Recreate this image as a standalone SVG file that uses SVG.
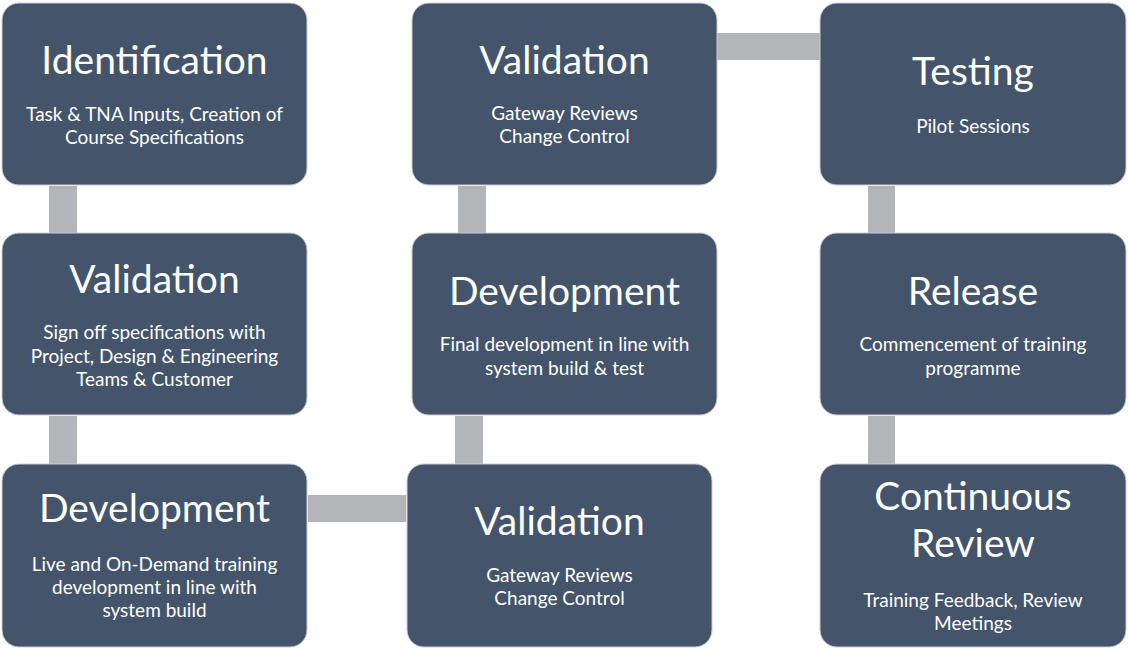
<svg xmlns="http://www.w3.org/2000/svg" width="1128" height="649" viewBox="0 0 1128 649">
<style>
.box{fill:#44546a;stroke:#c9ced6;stroke-width:1}
.bar{fill:#b3b5b8}
.t{font-family:Lato,"Open Sans",sans-serif;font-size:39px;fill:#fff;text-anchor:middle}
.s{font-family:Lato,"Open Sans",sans-serif;font-size:19px;fill:#fff;text-anchor:middle}
</style>
<rect width="1128" height="649" fill="#fff"/>
<g id="connectors">
<rect class="bar" x="49" y="186" width="28" height="47"/>
<rect class="bar" x="49" y="416" width="28" height="48"/>
<rect class="bar" x="308" y="495" width="98" height="27"/>
<rect class="bar" x="455" y="416" width="28" height="48"/>
<rect class="bar" x="458" y="186" width="28" height="47"/>
<rect class="bar" x="716" y="33" width="104" height="27"/>
<rect class="bar" x="868" y="186" width="27" height="47"/>
<rect class="bar" x="868" y="416" width="27" height="48"/>
</g>
<g id="identification">
<rect class="box" x="2" y="3" width="305" height="182" rx="17"/>
<text class="t" x="154.5" y="74">Identification</text>
<text class="s" x="154.5" y="121">Task &amp; TNA Inputs, Creation of</text>
<text class="s" x="154.5" y="144">Course Specifications</text>
</g>
<g id="validation1">
<rect class="box" x="2" y="233" width="305" height="182" rx="17"/>
<text class="t" x="154.5" y="293">Validation</text>
<text class="s" x="154.5" y="339">Sign off specifications with</text>
<text class="s" x="154.5" y="363">Project, Design &amp; Engineering</text>
<text class="s" x="154.5" y="386">Teams &amp; Customer</text>
</g>
<g id="development1">
<rect class="box" x="2" y="464" width="305" height="183" rx="17"/>
<text class="t" x="154.5" y="522">Development</text>
<text class="s" x="154.5" y="571">Live and On-Demand training</text>
<text class="s" x="154.5" y="594">development in line with</text>
<text class="s" x="154.5" y="617">system build</text>
</g>
<g id="validation2">
<rect class="box" x="407" y="464" width="305" height="183" rx="17"/>
<text class="t" x="559.5" y="535">Validation</text>
<text class="s" x="559.5" y="582">Gateway Reviews</text>
<text class="s" x="559.5" y="605">Change Control</text>
</g>
<g id="development2">
<rect class="box" x="412" y="233" width="305" height="182" rx="17"/>
<text class="t" x="564.5" y="305">Development</text>
<text class="s" x="564.5" y="351">Final development in line with</text>
<text class="s" x="564.5" y="375">system build &amp; test</text>
</g>
<g id="validation3">
<rect class="box" x="412" y="3" width="305" height="182" rx="17"/>
<text class="t" x="564.5" y="74">Validation</text>
<text class="s" x="564.5" y="120">Gateway Reviews</text>
<text class="s" x="564.5" y="143">Change Control</text>
</g>
<g id="testing">
<rect class="box" x="820" y="3" width="306" height="182" rx="17"/>
<text class="t" x="973" y="85">Testing</text>
<text class="s" x="973" y="133">Pilot Sessions</text>
</g>
<g id="release">
<rect class="box" x="820" y="233" width="306" height="182" rx="17"/>
<text class="t" x="973" y="305">Release</text>
<text class="s" x="973" y="351">Commencement of training</text>
<text class="s" x="973" y="375">programme</text>
</g>
<g id="continuous-review">
<rect class="box" x="820" y="464" width="306" height="183" rx="17"/>
<text class="t" x="973" y="510">Continuous</text>
<text class="t" x="973" y="557">Review</text>
<text class="s" x="973" y="607">Training Feedback, Review</text>
<text class="s" x="973" y="630">Meetings</text>
</g>
</svg>
